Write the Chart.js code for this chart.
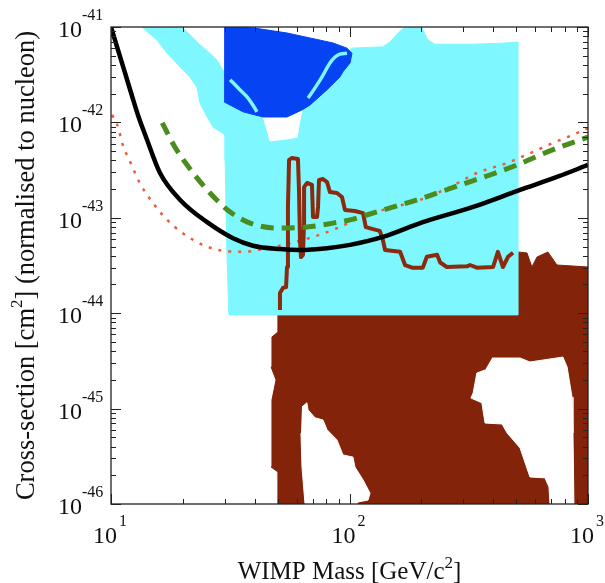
<!DOCTYPE html>
<html>
<head>
<meta charset="utf-8">
<script src="https://cdn.jsdelivr.net/npm/chart.js@4.4.1/dist/chart.umd.min.js"></script>
<style>
  html, body { margin: 0; padding: 0; background: #fff; }
</style>
</head>
<body>
<canvas id="chart" width="605" height="583"></canvas>
<script>
// axis ticks
const xMajor = [10, 100, 1000];
const xExp = ["1", "2", "3"];
const yMajor = [1e-46, 1e-45, 1e-44, 1e-43, 1e-42, 1e-41];
const yExp = ["-46", "-45", "-44", "-43", "-42", "-41"];

// limit curves: [WIMP mass GeV, cross-section cm^2]
const blackLimit = [[10, 1e-41], [10.7, 5.74e-42], [11.45, 3.3e-42], [12.25, 1.89e-42], [13.1, 1.11e-42],
  [14.03, 7.0e-43], [16.05, 2.95e-43], [19.5, 1.54e-43], [25.3, 9.0e-44], [32.5, 6.1e-44], [39.4, 5.1e-44],
  [51.1, 4.7e-44], [62, 4.6e-44], [80.5, 4.8e-44], [100.5, 5.2e-44], [138, 6.3e-44], [203, 9.0e-44],
  [330, 1.3e-43], [519, 1.96e-43], [741, 2.68e-43], [1000, 3.58e-43]];
const greenLimit = [[16.4, 9.9e-43], [18.55, 5.5e-43], [22.1, 2.95e-43], [26, 1.82e-43], [31.6, 1.15e-43],
  [38.3, 8.8e-44], [49.7, 7.8e-44], [66.3, 8.0e-44], [85.3, 8.8e-44], [100.5, 9.5e-44], [118, 1.07e-43],
  [148, 1.27e-43], [203, 1.61e-43], [291, 2.21e-43], [388, 2.81e-43], [504, 3.58e-43], [629, 4.55e-43],
  [763, 5.52e-43], [1000, 7.0e-43]];
const redLimit = [[10.1, 1.2e-42], [10.7, 8.95e-43], [11.2, 5.8e-43], [12.1, 3.75e-43], [13.2, 2.32e-43],
  [15.0, 1.43e-43], [17.2, 9.5e-44], [20.0, 6.9e-44], [24.3, 5.2e-44], [29.5, 4.5e-44], [35.8, 4.4e-44],
  [45.1, 4.8e-44], [56.3, 5.4e-44], [70.3, 6.3e-44], [91.2, 8.0e-44], [107.5, 9.7e-44], [138, 1.21e-43],
  [197.5, 1.54e-43], [264, 2.1e-43], [342, 2.95e-43], [457, 3.75e-43], [588, 4.9e-43], [713, 6.1e-43],
  [865, 7.4e-43], [1000, 8.7e-43]];
const brownLimit = [[51.1, 1.08e-44], [51.1, 1.63e-44], [52.6, 1.84e-44], [54.2, 1.88e-44], [54.7, 3.05e-44],
  [55.2, 1.3e-43], [55.8, 4.04e-43], [57.4, 4.24e-43], [60.8, 4.13e-43], [61.4, 1.96e-43], [62.0, 5.85e-44],
  [62.6, 3.88e-44], [63.8, 4.07e-44], [64.5, 8.8e-44], [64.5, 2.1e-43], [66.4, 2.32e-43], [69.6, 2.21e-43],
  [70.3, 1.02e-43], [73.1, 1.02e-43], [73.8, 1.3e-43], [74.5, 2.49e-43], [77.4, 2.55e-43], [80.5, 2.37e-43],
  [82.8, 1.86e-43], [88.6, 1.82e-43], [93.0, 1.65e-43], [95.7, 1.21e-43], [105.4, 1.18e-43], [114, 1.12e-43],
  [117, 8.0e-44], [125.5, 7.6e-44], [134, 7.3e-44], [138, 5.85e-44], [141, 4.6e-44], [163, 4.4e-44],
  [171, 3.2e-44], [183, 3.0e-44], [203, 3.0e-44], [211, 3.9e-44], [233, 4.1e-44], [240, 3.4e-44],
  [256, 3.05e-44], [311, 3.1e-44], [320, 3.2e-44], [342, 3.0e-44], [400, 3.05e-44], [419, 4.4e-44],
  [440, 3.05e-44], [462, 3.9e-44], [485, 4.3e-44]];

// allowed / signal regions (closed outlines)
const cyanRegion = [[13.5, 1e-41], [15.6, 7.3e-42], [17.2, 5.3e-42], [19.5, 3.8e-42], [21.4, 3.0e-42],
  [22.9, 2.35e-42], [23.6, 1.6e-42], [25.3, 1.14e-42], [26.8, 8.9e-43], [30.1, 7.4e-43], [30.1, 4.0e-43],
  [30.6, 4.6e-44], [31.2, 9.6e-45], [509, 9.6e-45], [509, 6.96e-42], [458, 6.8e-42], [330, 6.6e-42],
  [228, 6.6e-42], [213, 7.3e-42], [201, 9.8e-42], [171, 1e-41], [160, 8.65e-42], [148, 6.96e-42],
  [138, 6.2e-42], [102, 6.0e-42], [96, 5.1e-42], [62, 2.8e-42], [38, 2.5e-42], [29.5, 3.5e-42],
  [27.8, 4.5e-42], [26, 5.3e-42], [23.6, 6.5e-42], [22.1, 7.7e-42], [20.8, 8.9e-42], [19.85, 1e-41]];
const cyanNotch = [[43, 1.5e-42], [43.4, 1.14e-42], [44.2, 9.9e-43], [45.5, 7.7e-43], [46.4, 6.4e-43],
  [54.7, 6.7e-43], [60.3, 7.0e-43], [62, 1.06e-42], [63.2, 1.35e-42], [63.8, 1.7e-42]];
const blueRegion = [[29.8, 1e-41], [39.4, 9.8e-42], [54.7, 8.65e-42], [85.3, 6.8e-42], [97.6, 6.0e-42],
  [102.4, 5.3e-42], [100.5, 4.2e-42], [93.9, 3.4e-42], [91.2, 3.0e-42], [80.5, 2.2e-42], [68.3, 1.52e-42],
  [63.2, 1.35e-42], [54.7, 1.14e-42], [43.4, 1.14e-42], [35.8, 1.29e-42], [29.8, 1.64e-42]];
const blueStreakA = [[31.6, 2.8e-42], [34.7, 2.2e-42], [37.2, 1.85e-42], [39.8, 1.45e-42], [40.9, 1.29e-42]];
const blueStreakB = [[67, 1.8e-42], [71.7, 2.3e-42], [76.7, 3.0e-42], [82.8, 4.2e-42], [87, 4.85e-42],
  [91.2, 5.2e-42], [97.6, 5.3e-42]];
const brownRegion = [[50.1, 1e-46], [50.1, 2.17e-46], [46.9, 2.44e-46], [47.3, 1.23e-45], [49.2, 2.0e-45],
  [46.9, 2.73e-45], [47.3, 5.64e-45], [50.1, 6.35e-45], [50.1, 3.6e-44], [509, 4.38e-44], [555, 4.28e-44],
  [582, 3.05e-44], [611, 3.88e-44], [679, 4.38e-44], [741, 3.2e-44], [1000, 3.05e-44], [1000, 1e-46]];
const brownHoleA = [[63.2, 1.04e-45], [66.3, 1.15e-45], [67, 9.7e-46], [71.7, 8.0e-46], [77.4, 7.6e-46],
  [80.5, 6.0e-46], [88.6, 4.7e-46], [93.9, 3.27e-46], [103.4, 3.1e-46], [105.4, 2.44e-46], [114, 1.79e-46],
  [121.9, 1.3e-46], [119.6, 1.1e-46], [108.6, 1.05e-46], [107.5, 1e-46], [65.1, 1e-46], [63.2, 2.44e-46],
  [62.6, 5.55e-46]];
const brownHoleB = [[396, 3.39e-45], [519, 3.39e-45], [571, 3.08e-45], [785, 3.47e-45], [817, 2.73e-45],
  [857, 1.32e-45], [865, 5.55e-46], [873, 1e-46], [693, 1e-46], [686, 1.51e-46], [660, 1.88e-46],
  [571, 1.92e-46], [519, 3.87e-46], [458, 5.55e-46], [436, 6.9e-46], [370, 7.06e-46], [359, 1.15e-45],
  [323, 1.29e-45], [330, 1.46e-45], [342, 2.36e-45], [370, 2.54e-45]];

const SERIF = '"Liberation Serif", "Times New Roman", serif';
const pts = (arr) => arr.map(([x, y]) => ({ x, y }));

const region = (data, color, order) => ({
  data: pts(data), showLine: true, fill: "shape", backgroundColor: color, borderColor: color,
  borderWidth: 1, pointRadius: 0, tension: 0, order, clip: 0,
});
const curve = (data, color, width, dash, order, smooth) => ({
  data: pts(data), showLine: true, fill: false, borderColor: color, borderWidth: width,
  borderDash: dash, pointRadius: 0, order, clip: 0, borderJoinStyle: "round",
  tension: smooth ? 0.4 : 0, cubicInterpolationMode: smooth ? "monotone" : "default",
});

// minor tick values 2..9 per decade
function minorValues(lo, hi) {
  const out = [];
  for (let d = lo; d < hi; d *= 10) {
    for (let k = 2; k <= 9; k++) out.push(d * k);
  }
  return out;
}

// draw a label like 10^n
function powerLabel(ctx, exp, xRight, base, supX, supBase) {
  ctx.font = `24px ${SERIF}`;
  ctx.textAlign = "right";
  ctx.fillText("10", xRight, base);
  ctx.font = `16px ${SERIF}`;
  ctx.textAlign = "left";
  ctx.fillText(exp, supX, supBase);
}

// title text with one superscript piece
function supTitle(ctx, parts, cx, base, size) {
  const sizes = [size, Math.round(size * 0.66), size];
  const widths = parts.map((p, i) => { ctx.font = `${sizes[i]}px ${SERIF}`; return ctx.measureText(p).width; });
  let x = cx - (widths[0] + widths[1] + widths[2]) / 2;
  ctx.textAlign = "left";
  parts.forEach((p, i) => {
    ctx.font = `${sizes[i]}px ${SERIF}`;
    ctx.fillText(p, x, i === 1 ? base - Math.round(size * 0.45) : base);
    x += widths[i];
  });
}

const framePlugin = {
  id: "frame",
  afterDraw(chart) {
    const { ctx, chartArea: a, scales: { x, y } } = chart;
    ctx.save();
    ctx.strokeStyle = "#222";
    ctx.lineWidth = 1;
    ctx.beginPath();
    const xTicks = xMajor.map((v) => [v, 10]).concat(minorValues(10, 1000).map((v) => [v, 5]));
    xTicks.forEach(([v, len]) => {
      const px = Math.round(x.getPixelForValue(v)) + 0.5;
      ctx.moveTo(px, a.bottom); ctx.lineTo(px, a.bottom - len);
      ctx.moveTo(px, a.top); ctx.lineTo(px, a.top + len);
    });
    const yTicks = yMajor.map((v) => [v, 10]).concat(minorValues(1e-46, 1e-41).map((v) => [v, 5]));
    yTicks.forEach(([v, len]) => {
      const py = Math.round(y.getPixelForValue(v)) + 0.5;
      ctx.moveTo(a.left, py); ctx.lineTo(a.left + len, py);
      ctx.moveTo(a.right, py); ctx.lineTo(a.right - len, py);
    });
    ctx.stroke();
    ctx.lineWidth = 1.3;
    ctx.strokeRect(a.left, a.top, a.right - a.left, a.bottom - a.top);

    ctx.fillStyle = "#111";
    ctx.textBaseline = "alphabetic";
    xMajor.forEach((v, i) => {
      const px = x.getPixelForValue(v);
      powerLabel(ctx, xExp[i], px + 6, a.bottom + 39, px + 8, a.bottom + 22);
    });
    yMajor.forEach((v, i) => {
      const py = y.getPixelForValue(v);
      powerLabel(ctx, yExp[i], a.left - 29, py + 10, a.left - 29, py - 7);
    });

    supTitle(ctx, ["WIMP Mass [GeV/c", "2", "]"], (a.left + a.right) / 2, a.bottom + 75, 25);
    ctx.translate(34, (a.top + a.bottom) / 2);
    ctx.rotate(-Math.PI / 2);
    supTitle(ctx, ["Cross-section [cm", "2", "] (normalised to nucleon)"], 0, 0, 26.5);
    ctx.restore();
  },
};

new Chart(document.getElementById("chart"), {
  type: "scatter",
  data: {
    datasets: [
      region(brownRegion, "#82230a", 20),
      region(brownHoleA, "#ffffff", 19),
      region(brownHoleB, "#ffffff", 18),
      region(cyanRegion, "#7ef8fe", 17),
      region(cyanNotch, "#ffffff", 16),
      region(blueRegion, "#0643f2", 15),
      curve(blueStreakA, "#7ef8fe", 3.5, [], 14, true),
      curve(blueStreakB, "#7ef8fe", 3.5, [], 13, true),
      curve(redLimit, "#ef5a3a", 2.5, [3, 7], 12, true),
      curve(brownLimit, "#8a2a0e", 4, [], 11, false),
      curve(greenLimit, "#4a8c1e", 5, [13, 8], 10, true),
      curve(blackLimit, "#000000", 4.5, [], 9, true),
    ],
  },
  options: {
    responsive: false,
    animation: false,
    events: [],
    layout: { padding: { left: 111, right: 17, top: 27, bottom: 79 } },
    plugins: { legend: { display: false }, tooltip: { enabled: false } },
    scales: {
      x: { type: "logarithmic", min: 10, max: 1000, display: false },
      y: { type: "logarithmic", min: 1e-46, max: 1e-41, display: false },
    },
  },
  plugins: [framePlugin],
});
</script>
</body>
</html>
